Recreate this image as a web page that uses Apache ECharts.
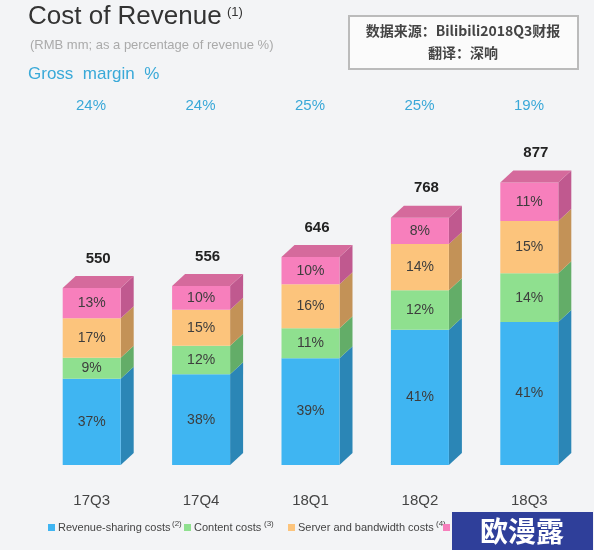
<!DOCTYPE html>
<html>
<head>
<meta charset="utf-8">
<script src="https://cdn.jsdelivr.net/npm/echarts@6/dist/echarts.min.js"></script>
<style>html,body{margin:0;padding:0;background:#f3f4f6;}#main{width:594px;height:550px;}</style>
</head>
<body>
<div id="main"></div>
<script>
var quarters = ['17Q3', '17Q4', '18Q1', '18Q2', '18Q3'];
var totals = [550, 556, 646, 768, 877];
var grossMargin = ['24%', '24%', '25%', '25%', '19%'];
var revShare = [37, 38, 39, 41, 41];
var content = [9, 12, 11, 12, 14];
var server = [17, 15, 16, 14, 15];
var other = [13, 10, 10, 8, 11];

var layers = [
  {name: 'Revenue-sharing costs', pct: revShare, front: '#3fb5f2', side: '#2b86b6'},
  {name: 'Content costs', pct: content, front: '#8fe08f', side: '#63ad68'},
  {name: 'Server and bandwidth costs', pct: server, front: '#fcc47c', side: '#c39257'},
  {name: 'Other costs', pct: other, front: '#f77fbc', side: '#c0598f'}
];

var sumPct = quarters.map(function (q, i) {
  return layers.reduce(function (s, l) { return s + l.pct[i]; }, 0);
});

var DX = 13, DY = 12;
var series = layers.map(function (layer, li) {
  var data = quarters.map(function (q, i) {
    var start = 0;
    for (var k = 0; k < li; k++) start += totals[i] * layers[k].pct[i] / sumPct[i];
    var end = start + totals[i] * layer.pct[i] / sumPct[i];
    return [i, start, end, layer.pct[i]];
  });
  return {
    type: 'custom',
    name: layer.name,
    data: data,
    renderItem: function (params, api) {
      var p0 = api.coord([api.value(0), api.value(1)]);
      var p1 = api.coord([api.value(0), api.value(2)]);
      var w = 58;
      var x0 = p0[0] - w / 2, x1 = p0[0] + w / 2;
      var children = [
        {type: 'polygon', shape: {points: [[x1, p0[1]], [x1 + DX, p0[1] - DY], [x1 + DX, p1[1] - DY], [x1, p1[1]]]},
          style: {fill: layer.side}},
        {type: 'rect', shape: {x: x0, y: p1[1], width: w, height: p0[1] - p1[1]},
          style: {fill: layer.front, text: api.value(3) + '%', textFill: '#3d3d3d', fontSize: 14,
            fontFamily: 'Liberation Sans'}},
      ];
      if (li === layers.length - 1) {
        children.push({type: 'polygon', shape: {points: [[x0, p1[1]], [x0 + DX, p1[1] - DY], [x1 + DX, p1[1] - DY], [x1, p1[1]]]},
          style: {fill: '#d56a9c'}});
        children.push({type: 'text', style: {x: p0[0] + DX / 2, y: p1[1] - DY - 10, text: String(totals[params.dataIndex]),
          textAlign: 'center', textVerticalAlign: 'bottom', fill: '#222', font: 'bold 15px Liberation Sans'}});
      }
      return {type: 'group', children: children};
    }
  };
});

var legendItems = [
  {x: 48, color: '#3fb5f2', text: 'Revenue-sharing costs', sup: '(2)', supX: 172},
  {x: 184, color: '#8fe08f', text: 'Content costs', sup: '(3)', supX: 264},
  {x: 288, color: '#fcc47c', text: 'Server and bandwidth costs', sup: '(4)', supX: 436},
  {x: 443, color: '#f77fbc', text: '', sup: ''}
];
var graphics = [
  {type: 'text', left: 28, top: 4, style: {text: 'Cost of Revenue', fill: '#333', font: '26px Liberation Sans'}},
  {type: 'text', left: 227, top: 6, style: {text: '(1)', fill: '#333', font: '13px Liberation Sans'}},
  {type: 'text', left: 30, top: 39, style: {text: '(RMB mm; as a percentage of revenue %)', fill: '#aaa', font: '13px Liberation Sans'}},
  {type: 'text', left: 28, top: 66, style: {text: 'Gross  margin  %', fill: '#39a9d8', font: '17px Liberation Sans'}},
  {type: 'rect', shape: {x: 349, y: 16, width: 229, height: 53}, style: {fill: '#fbfbfb', stroke: '#bbb', lineWidth: 2}},
  {type: 'text', x: 463, y: 31, style: {text: '数据来源：Bilibili2018Q3财报', textAlign: 'center', textVerticalAlign: 'middle',
    fill: '#444', font: 'bold 14px "Noto Sans CJK SC"'}},
  {type: 'text', x: 463, y: 53, style: {text: '翻译：深响', textAlign: 'center', textVerticalAlign: 'middle',
    fill: '#444', font: 'bold 14px "Noto Sans CJK SC"'}},
  {type: 'rect', shape: {x: 452, y: 512, width: 141, height: 38}, style: {fill: '#2f3f9a'}},
  {type: 'text', x: 522, y: 531, style: {text: '欧漫露', textAlign: 'center', textVerticalAlign: 'middle',
    fill: '#fff', font: 'bold 28px "Noto Sans CJK SC"'}}
];
quarters.forEach(function (q, i) {
  graphics.push({type: 'text', x: 37 + 109.5 * i + 54, y: 106, style: {text: grossMargin[i], textAlign: 'center',
    textVerticalAlign: 'middle', fill: '#3aa8d8', font: '15px Liberation Sans'}});
});
legendItems.forEach(function (it) {
  graphics.push({type: 'rect', shape: {x: it.x, y: 524, width: 7, height: 7}, style: {fill: it.color}});
  if (it.text) {
    graphics.push({type: 'text', x: it.x + 10, y: 528, style: {text: it.text, textVerticalAlign: 'middle',
      fill: '#444', font: '11px Liberation Sans'}});
    graphics.push({type: 'text', x: it.supX, y: 524, style: {text: it.sup, textVerticalAlign: 'middle',
      fill: '#444', font: '8px Liberation Sans'}});
  }
});

var myChart = echarts.init(document.getElementById('main'));
myChart.setOption({
  backgroundColor: '#f3f4f6',
  animation: false,
  grid: {left: 37, right: 10, top: 143, bottom: 85},
  xAxis: {type: 'category', data: quarters, axisLine: {show: false}, axisTick: {show: false},
    axisLabel: {color: '#444', fontSize: 15, margin: 28, fontFamily: 'Liberation Sans'}},
  yAxis: {type: 'value', min: 0, max: 1000, show: false},
  series: series,
  graphic: graphics
});
</script>
</body>
</html>
